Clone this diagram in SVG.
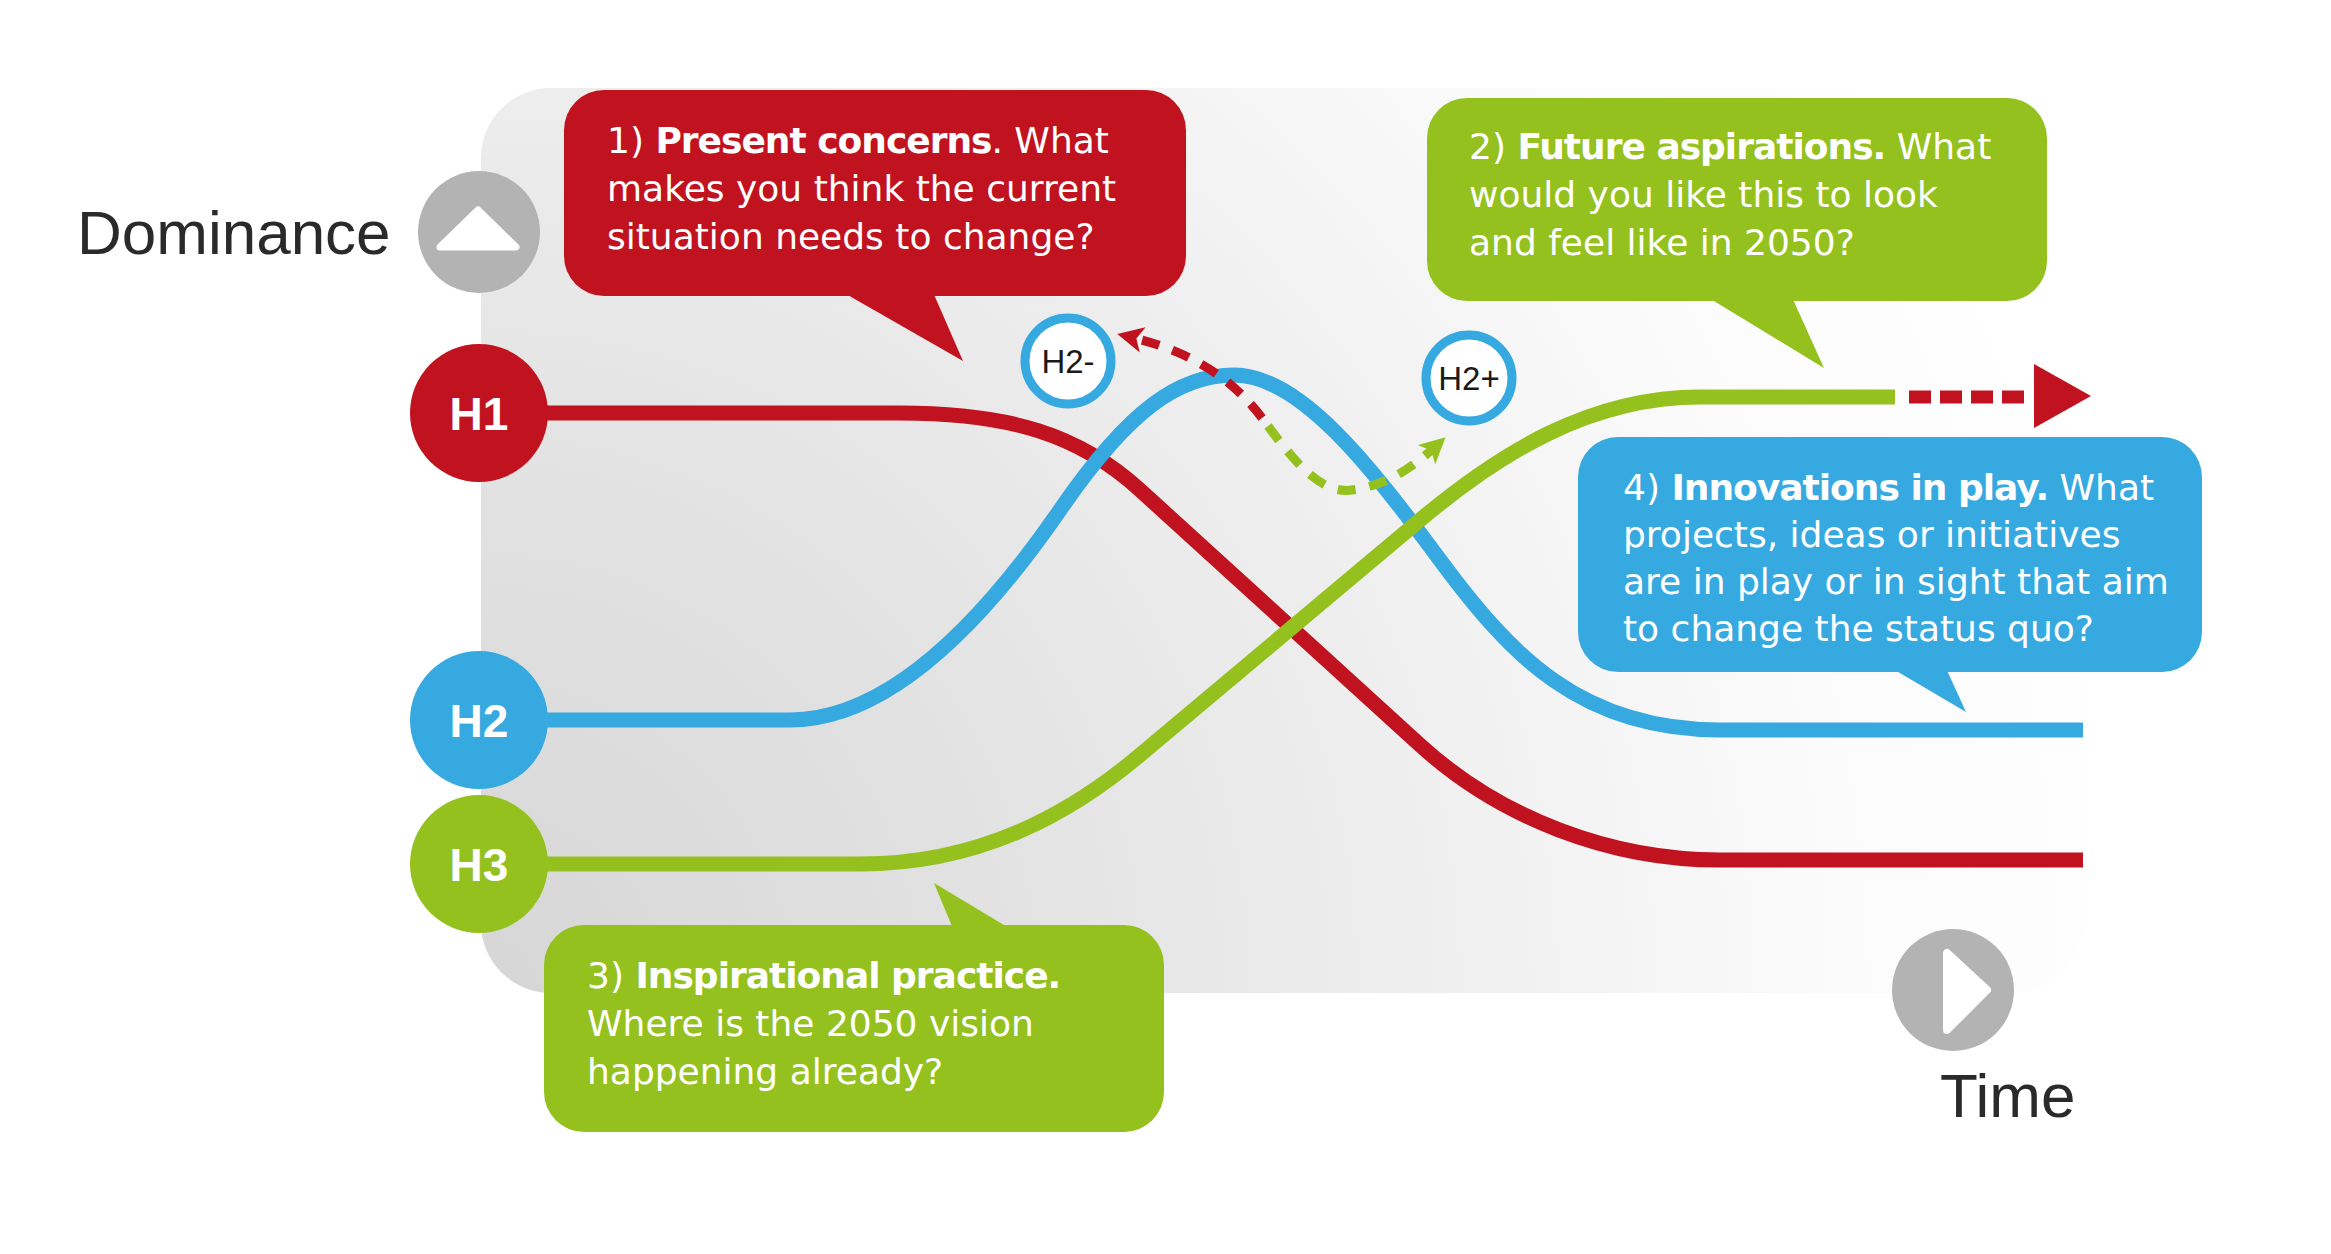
<svg xmlns="http://www.w3.org/2000/svg" width="2331" height="1254" viewBox="0 0 2331 1254">
  <defs>
    <radialGradient id="panelGrad" gradientUnits="userSpaceOnUse" cx="481" cy="993" r="1700">
      <stop offset="0" stop-color="#d6d6d6"/>
      <stop offset="0.3" stop-color="#e2e2e2"/>
      <stop offset="0.55" stop-color="#eeeeee"/>
      <stop offset="0.8" stop-color="#fbfbfb"/>
      <stop offset="1" stop-color="#ffffff"/>
    </radialGradient>
    <marker id="arrRed" viewBox="0 0 10 10" refX="5" refY="5" markerUnits="userSpaceOnUse" markerWidth="26" markerHeight="26" orient="auto">
      <path d="M0,0 L10,5 L0,10 L2.5,5 z" fill="#c1121f"/>
    </marker>
    <marker id="arrGreen" viewBox="0 0 10 10" refX="5" refY="5" markerUnits="userSpaceOnUse" markerWidth="26" markerHeight="26" orient="auto">
      <path d="M0,0 L10,5 L0,10 L2.5,5 z" fill="#95c11f"/>
    </marker>
  </defs>
  <style>
    .axis { font-family: "Liberation Sans", Arial, sans-serif; font-size: 62px; fill: #2a2a2a; }
    .hl { font-family: "Liberation Sans", Arial, sans-serif; font-size: 46px; font-weight: bold; fill: #ffffff; text-anchor: middle; }
    .hs { font-family: "Liberation Sans", Arial, sans-serif; font-size: 33px; fill: #1a1a1a; text-anchor: middle; }
    .box { font-family: "DejaVu Sans", "Liberation Sans", sans-serif; font-size: 36px; fill: #ffffff; }
    .b { font-weight: bold; letter-spacing: -1px; }
    .curve { fill: none; stroke-width: 15; stroke-linecap: butt; }
    .red { fill: #c1121f; }
    .green { fill: #95c11f; }
    .blue { fill: #36a9e1; }
    .gray { fill: #b3b3b3; }
  </style>

  <rect id="panel" x="481" y="88" width="1602" height="905" rx="70" ry="70" fill="url(#panelGrad)"/>

  <g id="axis-dominance">
    <text class="axis" x="77" y="254">Dominance</text>
    <circle class="gray" cx="479" cy="232" r="61"/>
    <polygon points="478,210 516,247 440,247" fill="#ffffff" stroke="#ffffff" stroke-width="7" stroke-linejoin="round"/>
  </g>

  <g id="axis-time">
    <circle class="gray" cx="1953" cy="990" r="61"/>
    <polygon points="1947,953 1947,1030 1987,990" fill="#ffffff" stroke="#ffffff" stroke-width="8" stroke-linejoin="round"/>
    <text class="axis" x="1940" y="1117">Time</text>
  </g>

  <g id="connectors">
    <path class="curve" stroke="#c1121f" d="M479,413 L900,413 C1010,413 1080,435 1140,490 L1420,745 C1500,818 1610,860 1720,860 L2083,860"/>
    <path class="curve" stroke="#36a9e1" d="M479,720 L790,720 C900,720 1000,597 1060,510 C1130,408 1180,375 1234,375 C1300,375 1370,465.5 1440,560 C1510,654.5 1580,730 1720,730 L2083,730"/>
    <path class="curve" stroke="#95c11f" d="M479,864 L860,864 C980,864 1070,814 1140,755 L1420,520 C1500,453 1590,397 1700,397 L1895,397"/>
    <path d="M1909,397 L2025,397" fill="none" stroke="#c1121f" stroke-width="13" stroke-dasharray="22 9"/>
    <polygon class="red" points="2034,364 2034,428 2091,396"/>
    <path d="M1262,418 C1235,382 1195,352 1130,337" fill="none" stroke="#c1121f" stroke-width="9" stroke-dasharray="18 14" marker-end="url(#arrRed)"/>
    <path d="M1268,426 C1300,470 1325,494 1352,490 C1385,486 1412,468 1436,446" fill="none" stroke="#95c11f" stroke-width="9" stroke-dasharray="18 14" marker-end="url(#arrGreen)"/>
  </g>

  <g id="callout-1">
    <rect class="red" x="564" y="90" width="622" height="206" rx="40" ry="40"/>
    <polygon class="red" points="839,290 932,290 963,361"/>
    <text class="box" x="607" y="153">1) <tspan class="b">Present concerns</tspan>. What</text>
    <text class="box" x="607" y="201">makes you think the current</text>
    <text class="box" x="607" y="249">situation needs to change?</text>
  </g>

  <g id="callout-2">
    <rect class="green" x="1427" y="98" width="620" height="203" rx="40" ry="40"/>
    <polygon class="green" points="1704,295 1791,295 1824,368"/>
    <text class="box" x="1469" y="159">2) <tspan class="b">Future aspirations.</tspan> What</text>
    <text class="box" x="1469" y="207">would you like this to look</text>
    <text class="box" x="1469" y="255">and feel like in 2050?</text>
  </g>

  <g id="callout-4">
    <rect class="blue" x="1578" y="437" width="624" height="235" rx="40" ry="40"/>
    <polygon class="blue" points="1888,666 1945,666 1966,712"/>
    <text class="box" x="1623" y="500">4) <tspan class="b">Innovations in play.</tspan> What</text>
    <text class="box" x="1623" y="547">projects, ideas or initiatives</text>
    <text class="box" x="1623" y="594">are in play or in sight that aim</text>
    <text class="box" x="1623" y="641">to change the status quo?</text>
  </g>

  <g id="callout-3">
    <rect class="green" x="544" y="925" width="620" height="207" rx="40" ry="40"/>
    <polygon class="green" points="954,931 1014,931 934,883"/>
    <text class="box" x="587" y="988">3) <tspan class="b">Inspirational practice.</tspan></text>
    <text class="box" x="587" y="1036">Where is the 2050 vision</text>
    <text class="box" x="587" y="1084">happening already?</text>
  </g>

  <g id="node-h1">
    <circle class="red" cx="479" cy="413" r="69"/>
    <text class="hl" x="479" y="430">H1</text>
  </g>
  <g id="node-h2">
    <circle class="blue" cx="479" cy="720" r="69"/>
    <text class="hl" x="479" y="737">H2</text>
  </g>
  <g id="node-h3">
    <circle class="green" cx="479" cy="864" r="69"/>
    <text class="hl" x="479" y="881">H3</text>
  </g>
  <g id="node-h2minus">
    <circle cx="1068" cy="361" r="43" fill="#ffffff" stroke="#36a9e1" stroke-width="9"/>
    <text class="hs" x="1068" y="373">H2-</text>
  </g>
  <g id="node-h2plus">
    <circle cx="1469" cy="378" r="43" fill="#ffffff" stroke="#36a9e1" stroke-width="9"/>
    <text class="hs" x="1469" y="390">H2+</text>
  </g>
</svg>
